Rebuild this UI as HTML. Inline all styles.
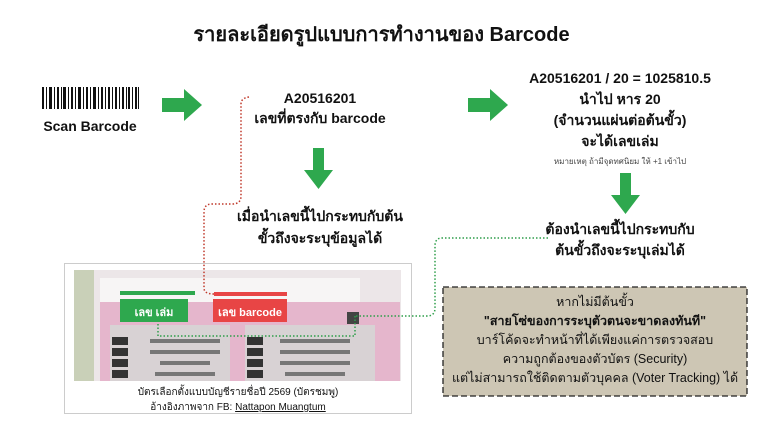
<!DOCTYPE html>
<html><head><meta charset="utf-8"><style>
body{margin:0;width:763px;height:429px;background:#fff;position:relative;overflow:hidden;font-family:"Liberation Sans","Noto Sans CJK SC",sans-serif;color:#111}
.t{position:absolute;text-align:center;font-weight:bold;white-space:nowrap}
svg{position:absolute;left:0;top:0}
</style></head><body>
<svg width="763" height="429">
 <!-- barcode -->
 <g fill="#111">
  <rect x="42" y="87" width="2" height="22"/><rect x="46" y="87" width="1" height="22"/><rect x="49" y="87" width="3" height="22"/><rect x="54" y="87" width="1" height="22"/><rect x="57" y="87" width="2" height="22"/><rect x="61" y="87" width="1" height="22"/><rect x="63" y="87" width="3" height="22"/><rect x="68" y="87" width="1" height="22"/><rect x="71" y="87" width="2" height="22"/><rect x="75" y="87" width="1" height="22"/><rect x="78" y="87" width="3" height="22"/><rect x="83" y="87" width="1" height="22"/><rect x="86" y="87" width="2" height="22"/><rect x="90" y="87" width="1" height="22"/><rect x="93" y="87" width="3" height="22"/><rect x="98" y="87" width="1" height="22"/><rect x="101" y="87" width="2" height="22"/><rect x="105" y="87" width="1" height="22"/><rect x="108" y="87" width="2" height="22"/><rect x="112" y="87" width="1" height="22"/><rect x="115" y="87" width="2" height="22"/><rect x="119" y="87" width="1" height="22"/><rect x="122" y="87" width="2" height="22"/><rect x="126" y="87" width="1" height="22"/><rect x="128" y="87" width="2" height="22"/><rect x="132" y="87" width="1" height="22"/><rect x="135" y="87" width="2" height="22"/><rect x="138" y="87" width="1" height="22"/>
 </g>
 <!-- arrows -->
 <g fill="#2ea84e">
  <path d="M162 98h22v-9l18 16-18 16v-9h-22z"/>
  <path d="M468 98h22v-9l18 16-18 16v-9h-22z"/>
  <path d="M313 148h11v22h9l-14.5 19-14.5-19h9z"/>
  <path d="M620 173h11v22h9l-14.5 19-14.5-19h9z"/>
 </g>
 <!-- photo frame -->
 <rect x="64.5" y="263.5" width="347" height="150" fill="#fff" stroke="#ccc"/>
 <rect x="74" y="270" width="327" height="111" fill="#ece6e8"/>
 <rect x="74" y="270" width="20" height="111" fill="#c9d0b8"/>
 <rect x="100" y="278" width="260" height="24" fill="#f7f5f5"/>
 <rect x="100" y="302" width="300" height="79" fill="#e5b6cc"/>
 <rect x="110" y="325" width="120" height="56" fill="#d8d2d4"/>
 <rect x="245" y="325" width="130" height="56" fill="#d8d2d4"/>
 <g fill="#333"><rect x="112" y="337" width="16" height="8"/><rect x="112" y="348" width="16" height="8"/><rect x="112" y="359" width="16" height="8"/><rect x="112" y="370" width="16" height="8"/><rect x="247" y="337" width="16" height="8"/><rect x="247" y="348" width="16" height="8"/><rect x="247" y="359" width="16" height="8"/><rect x="247" y="370" width="16" height="8"/></g>
 <g fill="#777"><rect x="150" y="339" width="70" height="4"/><rect x="150" y="350" width="70" height="4"/><rect x="160" y="361" width="50" height="4"/><rect x="155" y="372" width="60" height="4"/><rect x="280" y="339" width="70" height="4"/><rect x="280" y="350" width="70" height="4"/><rect x="280" y="361" width="70" height="4"/><rect x="285" y="372" width="60" height="4"/></g>
 <rect x="120" y="291" width="75" height="4" fill="#2ea84e"/>
 <rect x="214" y="292" width="73" height="4" fill="#e84545"/>
 <rect x="120" y="299" width="68" height="23" fill="#2ea84e"/>
 <rect x="213" y="299" width="74" height="23" fill="#e84545"/>
 <rect x="347" y="312" width="12" height="12" fill="#444"/>
 <!-- dotted lines -->
 <path d="M249 97 Q241 98 241 104 V196 Q241 204 232 204 H212 Q204 204 204 212 V288 Q204 294 214 294" fill="none" stroke="#c0392b" stroke-width="1.5" stroke-dasharray="1.5 2"/>
 <path d="M548 238 H442 Q435 238 435 246 V308 Q435 316 427 316 H355 M355 316 V336 H158 V322" fill="none" stroke="#2e9e4a" stroke-width="1.5" stroke-dasharray="1.5 2"/>
 <!-- note box -->
 <rect x="443" y="287" width="304" height="109" fill="#cdc6b4" stroke="#222" stroke-width="1.3" stroke-dasharray="6 3"/>
</svg>
<div class="t" style="left:0;width:763px;top:18px;font-size:20px">รายละเอียดรูปแบบการทำงานของ Barcode</div>
<div class="t" style="left:30px;width:120px;top:118px;font-size:14px">Scan Barcode</div>
<div class="t" style="left:220px;width:200px;top:88px;font-size:14px;line-height:20px">A20516201<br>เลขที่ตรงกับ barcode</div>
<div class="t" style="left:200px;width:240px;top:205px;font-size:14px;line-height:22px">เมื่อนำเลขนี้ไปกระทบกับต้น<br>ขั้วถึงจะระบุข้อมูลได้</div>
<div class="t" style="left:500px;width:240px;top:68px;font-size:14px;line-height:21px">A20516201 / 20 = 1025810.5<br>นำไป หาร 20<br>(จำนวนแผ่นต่อต้นขั้ว)<br>จะได้เลขเล่ม</div>
<div class="t" style="left:520px;width:200px;top:155px;font-size:8px;font-weight:normal;color:#444">หมายเหตุ ถ้ามีจุดทศนิยม ให้ +1 เข้าไป</div>
<div class="t" style="left:520px;width:200px;top:219px;font-size:14px;line-height:21px">ต้องนำเลขนี้ไปกระทบกับ<br>ต้นขั้วถึงจะระบุเล่มได้</div>
<div class="t" style="left:120px;width:68px;top:303px;font-size:11px;color:#fff">เลข เล่ม</div>
<div class="t" style="left:213px;width:74px;top:303px;font-size:11px;color:#fff">เลข barcode</div>
<div class="t" style="left:64px;width:348px;top:385px;font-size:10px;font-weight:normal;line-height:15px">บัตรเลือกตั้งแบบบัญชีรายชื่อปี 2569 (บัตรชมพู)<br>อ้างอิงภาพจาก FB: <u>Nattapon Muangtum</u></div>
<div class="t" style="left:443px;width:304px;top:293px;font-size:12.5px;font-weight:normal;line-height:19px">หากไม่มีต้นขั้ว<br><b>"สายโซ่ของการระบุตัวตนจะขาดลงทันที"</b><br>บาร์โค้ดจะทำหน้าที่ได้เพียงแค่การตรวจสอบ<br>ความถูกต้องของตัวบัตร (Security)<br>แต่ไม่สามารถใช้ติดตามตัวบุคคล (Voter Tracking) ได้</div>
</body></html>
